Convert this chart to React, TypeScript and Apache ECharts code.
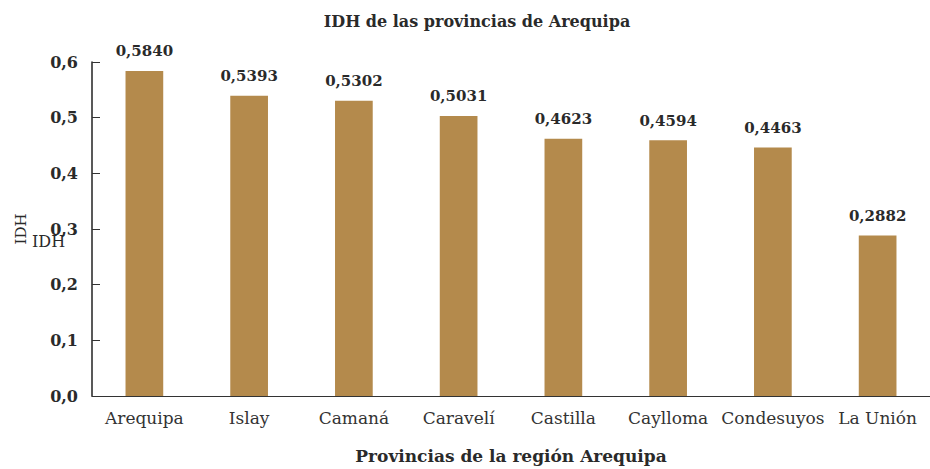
import React, { useEffect, useRef } from "react";
import * as echarts from "echarts";

const categories = ["Arequipa", "Islay", "Camaná", "Caravelí", "Castilla", "Caylloma", "Condesuyos", "La Unión"];
const idhValues = [0.584, 0.5393, 0.5302, 0.5031, 0.4623, 0.4594, 0.4463, 0.2882];
const yTicks = { min: 0, max: 0.6, interval: 0.1 };

const FONT = "DejaVu Serif";
const comma = (v: number, d: number) => v.toFixed(d).replace(".", ",");

export default function App() {
  const ref = useRef<HTMLDivElement>(null);
  useEffect(() => {
    if (!ref.current) return;
    document.body.style.margin = "0";
    const chart = echarts.init(ref.current, null, { renderer: "svg" });
    chart.setOption({
      animation: false,
      title: {
        text: "IDH de las provincias de Arequipa",
        left: 472,
        top: 8,
        textAlign: "center",
        textStyle: { fontFamily: FONT, fontSize: 16, fontWeight: "bold", color: "#2a2a2a" },
      },
      grid: { left: 92, right: -5, top: 62, bottom: 71, containLabel: false },
      xAxis: {
        type: "category",
        data: categories,
        name: "Provincias de la región Arequipa",
        nameLocation: "middle",
        nameGap: 51,
        nameTextStyle: { fontFamily: FONT, fontSize: 17, fontWeight: "bold", color: "#2a2a2a" },
        axisLine: { lineStyle: { color: "#333", width: 1 } },
        axisTick: { inside: true, length: 7, lineStyle: { color: "#333" } },
        axisLabel: { fontFamily: FONT, fontSize: 17, color: "#333", margin: 13, interval: 0 },
      },
      yAxis: {
        type: "value",
        min: yTicks.min,
        max: yTicks.max,
        interval: yTicks.interval,
        name: "IDH",
        nameLocation: "middle",
        nameRotate: 90,
        nameGap: 64,
        nameTextStyle: { fontFamily: FONT, fontSize: 15, color: "#2a2a2a" },
        axisLine: { show: true, lineStyle: { color: "#222", width: 1.5 } },
        axisTick: { show: true, inside: true, length: 8, lineStyle: { color: "#333" } },
        splitLine: { show: false },
        axisLabel: {
          fontFamily: FONT,
          fontSize: 16,
          fontWeight: "bold",
          color: "#2a2a2a",
          margin: 14,
          formatter: (v: number) => comma(v, 1),
        },
      },
      graphic: [
        {
          type: "text",
          left: 32,
          top: 233,
          style: { text: "IDH", fontFamily: FONT, fontSize: 16, fill: "#2a2a2a" },
        },
      ],
      series: [
        {
          type: "bar",
          data: idhValues,
          barWidth: "36%",
          itemStyle: { color: "#b48a4c" },
          label: {
            show: true,
            position: "top",
            distance: 12,
            fontFamily: FONT,
            fontSize: 15,
            fontWeight: "bold",
            color: "#2a2a2a",
            formatter: (p: any) => comma(p.value, 4),
          },
        },
      ],
    });
    return () => chart.dispose();
  }, []);
  return <div ref={ref} style={{ width: 930, height: 469 }} />;
}
